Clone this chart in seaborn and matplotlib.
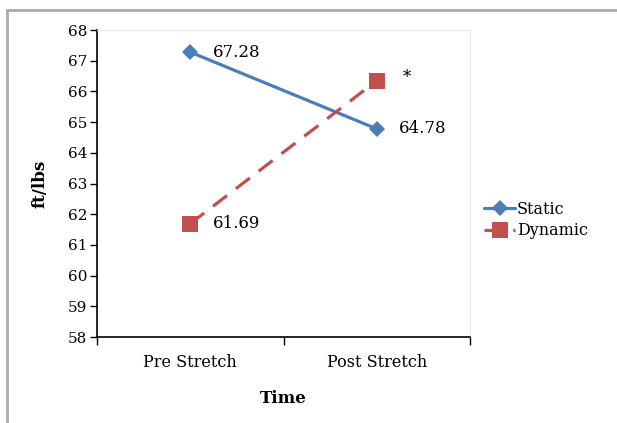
import pandas as pd
import matplotlib
matplotlib.use('Agg')
import matplotlib.pyplot as plt
import seaborn as sns
from matplotlib.lines import Line2D
from matplotlib.ticker import FixedLocator, NullFormatter

times = ['Pre Stretch', 'Post Stretch']
static_vals = [67.28, 64.78]
dynamic_vals = [61.69, 66.35]
static_labels = ['67.28', '64.78']
dynamic_labels = ['61.69', '']
y_ticks = list(range(58, 69))

blue = '#4A7EBB'
red = '#C0504D'

sns.set_style('white')
plt.rcParams['font.family'] = ['DejaVu Serif']
plt.rcParams['font.size'] = 11
plt.rcParams['text.color'] = 'black'
plt.rcParams['axes.labelcolor'] = 'black'
plt.rcParams['xtick.color'] = 'black'
plt.rcParams['ytick.color'] = 'black'

df = pd.DataFrame({
    'Time': times * 2,
    'value': static_vals + dynamic_vals,
    'series': ['Static'] * 2 + ['Dynamic'] * 2,
})

fig = plt.figure(figsize=(6.17, 4.23), dpi=100)
ax = fig.add_axes([97 / 617, 1 - 337 / 423, 373 / 617, 307 / 423])

sns.lineplot(data=df[df['series'] == 'Static'], x='Time', y='value', ax=ax,
             color=blue, lw=2.3, marker='D', markersize=8.5, markeredgewidth=0,
             label='Static', sort=False)
sns.lineplot(data=df[df['series'] == 'Dynamic'], x='Time', y='value', ax=ax,
             color=red, lw=2.3, marker='s', markersize=12, markeredgewidth=0,
             label='Dynamic', sort=False)
ax.lines[1].set_dashes((5.5, 3.5))

ax.set_xlim(-0.5, 1.5)
ax.set_ylim(58, 68)
ax.set_yticks(y_ticks)
ax.set_yticklabels([str(t) for t in y_ticks], fontsize=11)

ax.xaxis.set_major_locator(FixedLocator([-0.5, 0.5, 1.5]))
ax.xaxis.set_major_formatter(NullFormatter())
ax.xaxis.set_minor_locator(FixedLocator([0, 1]))
ax.set_xticklabels(times, minor=True, fontsize=11.5)
ax.tick_params(axis='x', which='major', direction='out', length=6, width=1, bottom=True)
ax.tick_params(axis='x', which='minor', length=0, pad=12, bottom=True)
ax.tick_params(axis='y', direction='out', length=5, width=1, pad=2, left=True)

for side in ['left', 'bottom']:
    ax.spines[side].set_color('black')
    ax.spines[side].set_linewidth(1.2)
for side in ['top', 'right']:
    ax.spines[side].set_color('#e6e6e6')
    ax.spines[side].set_linewidth(0.8)

ax.set_xlabel('Time', fontweight='bold', fontsize=12, labelpad=14)
ax.set_ylabel('ft/lbs', fontweight='bold', fontsize=12, labelpad=14)

for i, (v, lab) in enumerate(zip(static_vals, static_labels)):
    ax.annotate(lab, (i, v), xytext=(16, 0), textcoords='offset points',
                va='center', ha='left', fontsize=12)
for i, (v, lab) in enumerate(zip(dynamic_vals, dynamic_labels)):
    if lab:
        ax.annotate(lab, (i, v), xytext=(16, 0), textcoords='offset points',
                    va='center', ha='left', fontsize=12)
ax.annotate('*', (1, dynamic_vals[1]), xytext=(19, 2), textcoords='offset points',
            va='center', ha='left', fontsize=12)

ax.get_legend().remove()
handles = [Line2D([], [], color=blue, lw=2.3, marker='D', markersize=8.5, markeredgewidth=0),
           Line2D([], [], color=red, lw=2.3, marker='s', markersize=12, markeredgewidth=0,
                  dashes=(5.5, 3.5))]
fig.legend(handles, ['Static', 'Dynamic'], loc='center left',
           bbox_to_anchor=(470 / 617, 1 - 220 / 423), frameon=False,
           fontsize=11.5, handlelength=1.9, handletextpad=0.15, labelspacing=0.3)

# outer chart border (top and left edges)
fig.add_artist(Line2D([7 / 617, 7 / 617], [0, 1 - 10 / 423], color='#aaaaaa', lw=2,
                      transform=fig.transFigure))
fig.add_artist(Line2D([7 / 617, 1], [1 - 10 / 423, 1 - 10 / 423], color='#aaaaaa', lw=2,
                      transform=fig.transFigure))

fig.savefig('out.png', dpi=100)
